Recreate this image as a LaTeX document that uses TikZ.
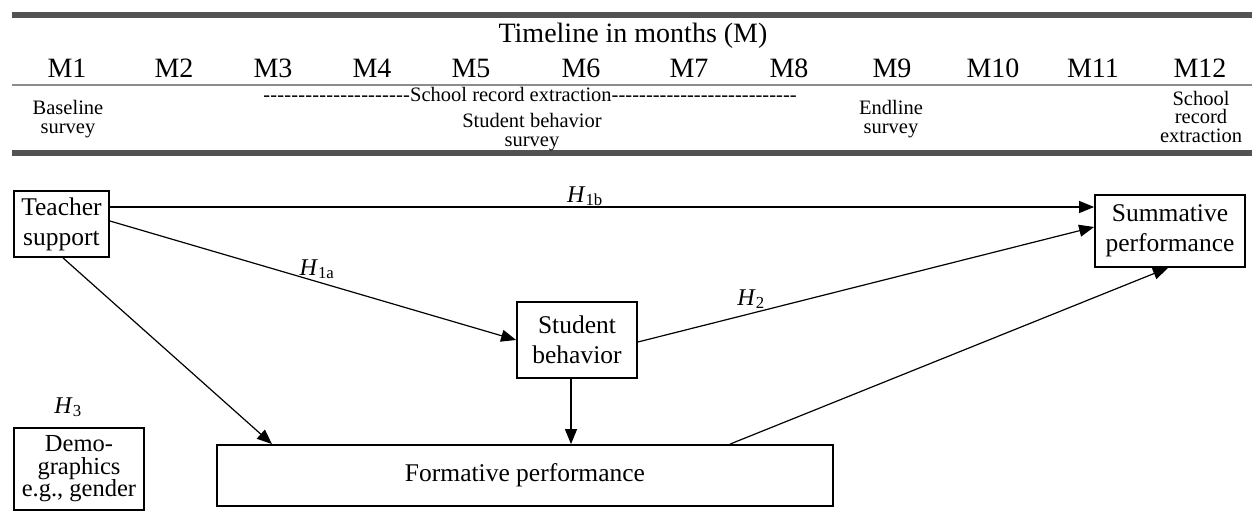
\documentclass[tikz,border=0pt]{standalone}
\usepackage{fontspec}
\setmainfont{Liberation Serif}
\usetikzlibrary{arrows.meta}
\begin{document}
\begin{tikzpicture}[x=1pt,y=-1pt,
  box/.style={draw,line width=1.8pt,inner sep=0pt,align=center,font=\fontsize{25.5}{30}\selectfont},
  conn/.style={line width=1.2pt,-{Triangle[length=15pt,width=12pt]}},
  month/.style={anchor=base,inner sep=0pt,font=\fontsize{28}{32}\selectfont},
  small/.style={inner sep=0pt,align=center,font=\fontsize{20.5}{18.5}\selectfont},
  hyp/.style={anchor=base,inner sep=0pt,font=\fontsize{24}{28}\selectfont},
  thickrule/.style={line width=6pt,draw=black!68},
  thinrule/.style={line width=1.2pt,draw=black!45}
]
\useasboundingbox (0,0) rectangle (1252,532);
% timeline rules
\draw[thickrule] (12,15) -- (1252,15);
\draw[thinrule] (12,85) -- (1252,85);
\draw[thickrule] (12,153) -- (1252,153);
% title and months
\node[month] (title) at (633,43) {Timeline in months (M)};
\node[month] (m1) at (67,78) {M1};
\node[month] (m2) at (174,78) {M2};
\node[month] (m3) at (273,78) {M3};
\node[month] (m4) at (372,78) {M4};
\node[month] (m5) at (471,78) {M5};
\node[month] (m6) at (581,78) {M6};
\node[month] (m7) at (689,78) {M7};
\node[month] (m8) at (789,78) {M8};
\node[month] (m9) at (892,78) {M9};
\node[month] (m10) at (993,78) {M10};
\node[month] (m11) at (1093,78) {M11};
\node[month] (m12) at (1200,78) {M12};
% activities
\node[small] (base) at (68,119) {Baseline\\survey};
\node[small,anchor=base west] (rec) at (263,102) {\hbox to 147pt{\xleaders\hbox{-}\hfill}School record extraction\hbox to 185pt{\xleaders\hbox{-}\hfill}};
\node[small] (sbs) at (532,132) {Student behavior\\survey};
\node[small] (end) at (891,119) {Endline\\survey};
\node[small] (rec2) at (1201,116.5) {School\\record\\extraction};
% model boxes
\node[box,minimum width=95pt,minimum height=66pt] (teacher) at (61.5,224) {Teacher\\support};
\node[box,minimum width=130pt,minimum height=82pt,font=\fontsize{24.5}{22.5}\selectfont] (demo) at (79,469) {Demo-\\graphics\\e.g., gender};
\node[box,minimum width=616pt,minimum height=61pt] (form) at (525,475.5) {Formative performance};
\node[box,minimum width=120pt,minimum height=76pt] (student) at (577,340) {Student\\behavior};
\node[box,minimum width=150pt,minimum height=72pt] (summ) at (1170,231) {Summative\\performance};
% connectors
\draw[conn] ([yshift=17pt]teacher.east) -- ([yshift=24pt]summ.west);
\draw[conn] ([yshift=3pt]teacher.east) -- (student.west);
\draw[conn] ([xshift=1.5pt]teacher.south) -- ([xshift=-253pt]form.north);
\draw[conn] ([xshift=-6pt]student.south) -- ([xshift=46pt]form.north);
\draw[conn] ([yshift=-2pt]student.east) -- ([yshift=4pt]summ.west);
\draw[conn] ([xshift=205pt]form.north) -- ([xshift=-2pt]summ.south);
% hypothesis labels
\node[hyp] (h1b) at (585,202) {\textit{H}\textsubscript{1b}};
\node[hyp] (h1a) at (317,275) {\textit{H}\textsubscript{1a}};
\node[hyp] (h2) at (751,305) {\textit{H}\textsubscript{2}};
\node[hyp] (h3) at (68,413) {\textit{H}\textsubscript{3}};
\end{tikzpicture}
\end{document}
